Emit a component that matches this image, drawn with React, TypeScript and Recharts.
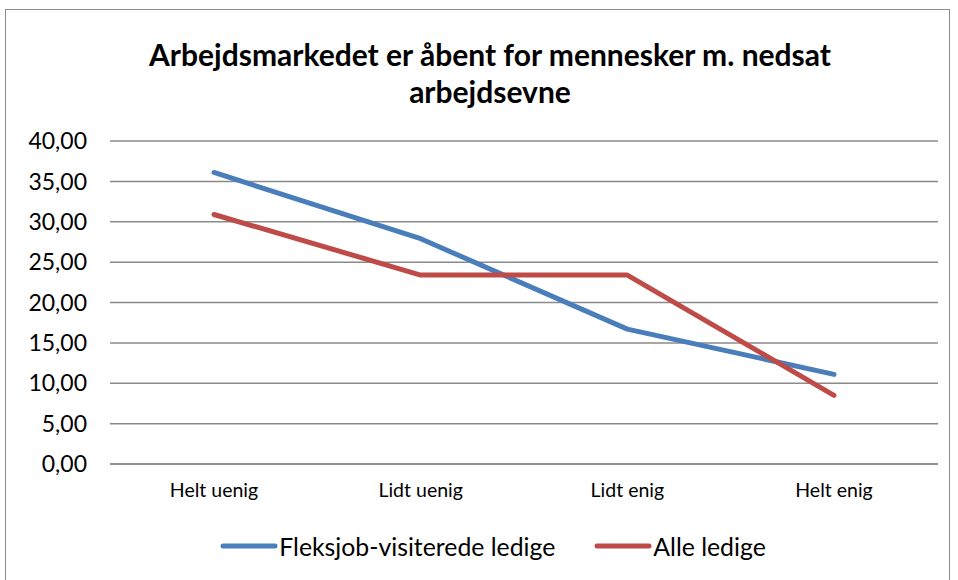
import React from "react";
import { LineChart, Line, XAxis, YAxis, CartesianGrid, Legend } from "recharts";

const categories = ["Helt uenig", "Lidt uenig", "Lidt enig", "Helt enig"];
const fleksjob = [36.1, 27.9, 16.7, 11.1];
const alle = [30.9, 23.4, 23.4, 8.5];
const yTicks = [0, 5, 10, 15, 20, 25, 30, 35, 40];
const seriesNames = ["Fleksjob-visiterede ledige", "Alle ledige"];
const seriesColors = ["#4a7ebb", "#be4b48"];

const data = categories.map((c, i) => ({ name: c, fleks: fleksjob[i], alle: alle[i] }));

const FONT = "Lato, 'Open Sans', sans-serif";

const LegendContent = () => (
  <div
    style={{
      display: "flex",
      justifyContent: "center",
      alignItems: "center",
      height: 30,
      paddingLeft: 28,
      boxSizing: "border-box",
      fontFamily: FONT,
      fontSize: 24.8,
      color: "#000",
    }}
  >
    {seriesNames.map((n, i) => (
      <div key={n} style={{ display: "flex", alignItems: "center", marginLeft: i === 0 ? 0 : 39 }}>
        <svg width={58} height={8} style={{ marginRight: 1 }}>
          <line x1={3} y1={4} x2={55} y2={4} stroke={seriesColors[i]} strokeWidth={5} strokeLinecap="round" />
        </svg>
        <span>{n}</span>
      </div>
    ))}
  </div>
);

export default function App() {
  return (
    <div style={{ position: "absolute", left: 0, top: 0, width: 958, height: 580, overflow: "hidden", background: "#fff" }}>
      <div
        style={{
          position: "absolute",
          left: 5,
          top: 9,
          width: 945,
          height: 620,
          border: "1.5px solid #8c8c8c",
          boxSizing: "border-box",
        }}
      />
      <div
        style={{
          position: "absolute",
          left: 0,
          top: 36,
          width: 980,
          textAlign: "center",
          fontFamily: FONT,
          fontWeight: 700,
          fontSize: 30,
          lineHeight: "37px",
          color: "#000",
        }}
      >
        Arbejdsmarkedet er åbent for mennesker m. nedsat
        <br />
        arbejdsevne
      </div>
      <div style={{ position: "absolute", left: 0, top: 0 }}>
        <LineChart width={958} height={580} data={data} margin={{ top: 141, right: 20, left: 0, bottom: 0 }}>
          <CartesianGrid vertical={false} stroke="#8a8a8a" strokeWidth={1.5} />
          <XAxis
            dataKey="name"
            height={86}
            padding={{ left: 104, right: 104 }}
            tickLine={false}
            axisLine={{ stroke: "#8a8a8a", strokeWidth: 1.5 }}
            tickSize={0}
            tickMargin={19}
            tick={{ fill: "#000", fontSize: 19.5, fontFamily: FONT }}
          />
          <YAxis
            width={110}
            domain={[0, 40]}
            ticks={yTicks}
            interval={0}
            axisLine={false}
            tickLine={false}
            tickSize={0}
            tickMargin={23}
            tickFormatter={(v: number) => v.toFixed(2).replace(".", ",")}
            tick={{ fill: "#000", fontSize: 23, fontFamily: FONT }}
          />
          <Legend verticalAlign="bottom" content={<LegendContent />} wrapperStyle={{ top: 531, left: 0, width: 958 }} />
          <Line
            type="linear"
            dataKey="fleks"
            name={seriesNames[0]}
            stroke={seriesColors[0]}
            strokeWidth={5}
            strokeLinecap="round"
            strokeLinejoin="round"
            dot={false}
            activeDot={false}
            isAnimationActive={false}
          />
          <Line
            type="linear"
            dataKey="alle"
            name={seriesNames[1]}
            stroke={seriesColors[1]}
            strokeWidth={5}
            strokeLinecap="round"
            strokeLinejoin="round"
            dot={false}
            activeDot={false}
            isAnimationActive={false}
          />
        </LineChart>
      </div>
    </div>
  );
}
